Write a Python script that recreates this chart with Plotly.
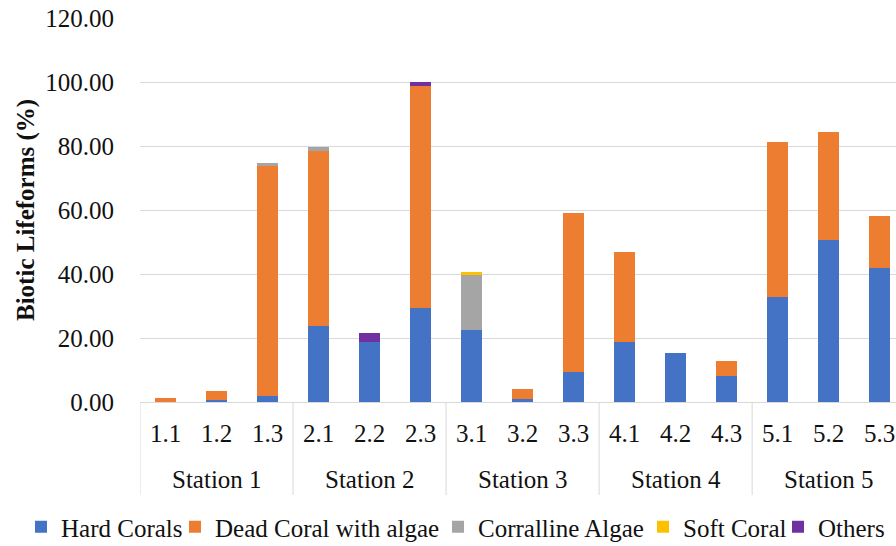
import plotly.graph_objects as go

# Sampling sites grouped by station
stations = ["Station 1"] * 3 + ["Station 2"] * 3 + ["Station 3"] * 3 + ["Station 4"] * 3 + ["Station 5"] * 3
sites = ["1.1", "1.2", "1.3", "2.1", "2.2", "2.3", "3.1", "3.2", "3.3",
         "4.1", "4.2", "4.3", "5.1", "5.2", "5.3"]

# Percentage cover of each biotic lifeform per site
hard_corals = [0.0, 0.7, 1.8, 23.8, 18.9, 29.4, 22.5, 0.8, 9.4, 18.6, 15.3, 8.0, 32.7, 50.6, 41.9]
dead_coral_algae = [1.4, 2.7, 72.0, 54.7, 0.0, 69.5, 0.0, 3.2, 49.7, 28.3, 0.0, 4.9, 48.7, 33.9, 16.2]
coralline_algae = [0.0, 0.0, 0.9, 1.1, 0.0, 0.0, 17.4, 0.0, 0.0, 0.0, 0.0, 0.0, 0.0, 0.0, 0.0]
soft_coral = [0.0, 0.0, 0.0, 0.0, 0.0, 0.0, 0.6, 0.0, 0.0, 0.0, 0.0, 0.0, 0.0, 0.0, 0.0]
others = [0.0, 0.0, 0.0, 0.0, 2.7, 1.1, 0.0, 0.0, 0.0, 0.0, 0.0, 0.0, 0.0, 0.0, 0.0]

y_ticks = [0, 20, 40, 60, 80, 100, 120]

series = [
    ("Hard Corals", hard_corals, "#4472C4"),
    ("Dead Coral with algae", dead_coral_algae, "#ED7D31"),
    ("Corralline Algae", coralline_algae, "#A5A5A5"),
    ("Soft Coral", soft_coral, "#FFC000"),
    ("Others", others, "#7030A0"),
]

FONT = "Liberation Serif, Times New Roman, serif"
TEXT = "#111111"
LINE = "#D9D9D9"
W, H = 896, 546
PLOT_TOP, PLOT_BOTTOM = 18, 402
PLOT_H = PLOT_BOTTOM - PLOT_TOP


def paper_y(px):
    """Convert a pixel row below the plot into paper coordinates."""
    return (PLOT_BOTTOM - px) / PLOT_H


# left edge (px) of each legend entry along the bottom row
legend_left = [21, 175, 438, 643, 778]

fig = go.Figure()
legend_layout = {}
for i, (name, values, color) in enumerate(series):
    key = "legend" if i == 0 else f"legend{i + 1}"
    fig.add_trace(go.Bar(
        name=name,
        x=sites,
        y=values,
        marker=dict(color=color, line=dict(width=0)),
        legend=key,
    ))
    legend_layout[key] = dict(
        xref="container",
        yref="container",
        x=legend_left[i] / W,
        xanchor="left",
        y=1 - 527 / H,
        yanchor="middle",
        font=dict(family=FONT, size=25, color=TEXT),
        bgcolor="rgba(0,0,0,0)",
        borderwidth=0,
    )

# station group labels and the divider lines between groups
group_names = list(dict.fromkeys(stations))
annotations = []
shapes = []
for name in group_names:
    idx = [k for k, s in enumerate(stations) if s == name]
    annotations.append(dict(
        x=sum(idx) / len(idx), xref="x",
        y=paper_y(479), yref="paper",
        text=name, showarrow=False,
        xanchor="center", yanchor="middle",
        font=dict(family=FONT, size=25, color=TEXT),
    ))
    shapes.append(dict(
        type="line", xref="x", yref="paper",
        x0=idx[0] - 0.5, x1=idx[0] - 0.5,
        y0=0, y1=paper_y(495),
        line=dict(color=LINE, width=1),
    ))

# rotated axis title
annotations.append(dict(
    x=(26 - 140) / (W - 140), xref="paper",
    y=0.5, yref="paper",
    text="<b>Biotic Lifeforms (%)</b>", showarrow=False,
    textangle=-90, xanchor="center", yanchor="middle",
    font=dict(family=FONT, size=25, color=TEXT),
))

fig.update_layout(
    barmode="stack",
    bargap=0.6,
    width=W,
    height=H,
    margin=dict(l=140, r=0, t=PLOT_TOP, b=H - PLOT_BOTTOM, autoexpand=False),
    paper_bgcolor="white",
    plot_bgcolor="white",
    font=dict(family=FONT, size=25, color=TEXT),
    showlegend=True,
    annotations=annotations,
    shapes=shapes,
    **legend_layout,
)

fig.update_xaxes(
    type="category",
    range=[-0.5, 14.32],
    showline=True,
    linecolor=LINE,
    linewidth=1,
    ticks="outside",
    ticklen=9,
    tickcolor="rgba(0,0,0,0)",
    tickangle=0,
    tickfont=dict(family=FONT, size=25, color=TEXT),
    showgrid=False,
)

fig.update_yaxes(
    range=[0, 120],
    tickvals=y_ticks,
    tickformat=".2f",
    showgrid=True,
    gridcolor=LINE,
    gridwidth=1,
    zeroline=False,
    showline=False,
    ticks="outside",
    ticklen=20,
    tickcolor="rgba(0,0,0,0)",
    tickfont=dict(family=FONT, size=25, color=TEXT),
)

fig.write_html("out.html")
